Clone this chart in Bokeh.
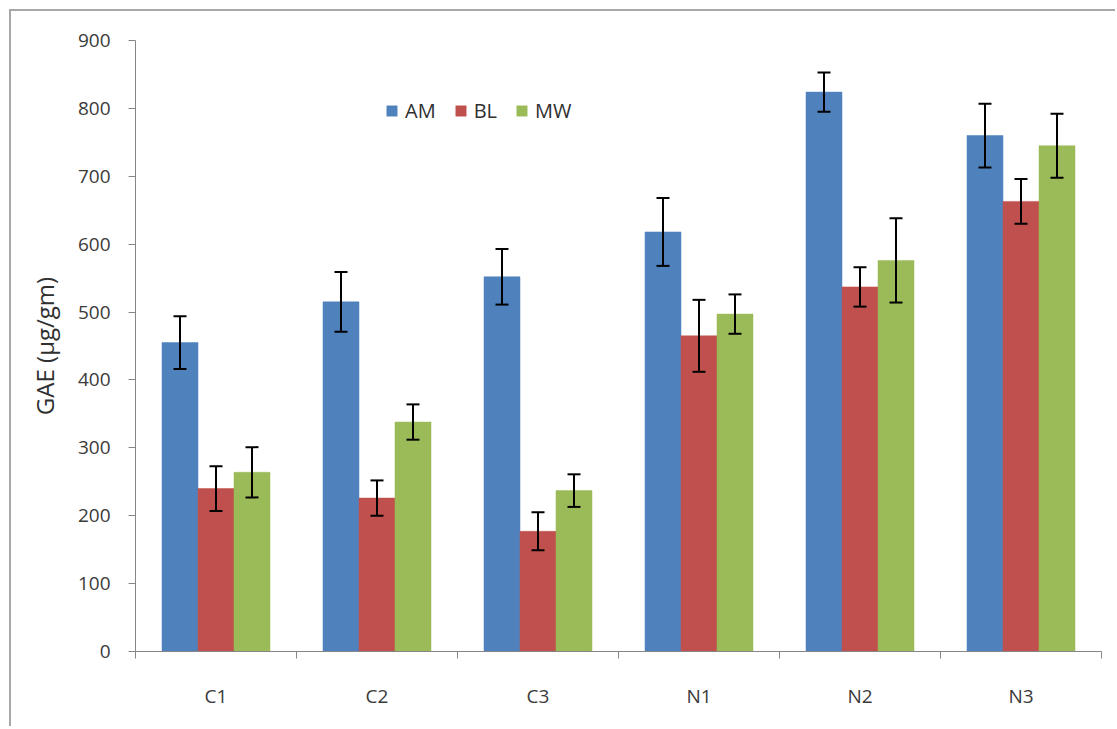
from bokeh.plotting import figure
from bokeh.models import Range1d, FixedTicker, ColumnDataSource, Whisker, TeeHead, Legend, LegendItem
from bokeh.embed import file_html
from bokeh.resources import INLINE

categories = ["C1", "C2", "C3", "N1", "N2", "N3"]
series = ["AM", "BL", "MW"]
am = [455, 515, 552, 618, 824, 760]
bl = [240, 226, 177, 465, 537, 663]
mw = [264, 338, 237, 497, 576, 745]
am_err = [39, 44, 41, 50, 29, 47]
bl_err = [33, 26, 28, 53, 29, 33]
mw_err = [37, 26, 24, 29, 62, 47]
colors = ["#4F81BD", "#C0504D", "#9BBB59"]
y_ticks = [0, 100, 200, 300, 400, 500, 600, 700, 800, 900]

FONT = "Open Sans"
TXT = "#3a3a3a"

p = figure(width=1106, height=717, output_backend="svg", toolbar_location=None,
           x_range=Range1d(0, len(categories)), y_range=Range1d(0, 900),
           min_border_left=124, min_border_right=16, min_border_top=29, min_border_bottom=77,
           styles={"border-left": "2px solid #a8a8a8", "border-top": "2px solid #a8a8a8"},
           margin=(9, 0, 0, 9))
p.outline_line_color = None
p.xgrid.visible = False
p.ygrid.visible = False
p.background_fill_color = "white"
p.border_fill_color = "white"

bw = 0.2236
values = [am, bl, mw]
errs = [am_err, bl_err, mw_err]
renderers = []
for k, (vals, er) in enumerate(zip(values, errs)):
    xs = [i + 0.5 + (k - 1) * bw for i in range(len(categories))]
    src = ColumnDataSource(dict(x=xs, top=vals,
                                upper=[v + e for v, e in zip(vals, er)],
                                lower=[v - e for v, e in zip(vals, er)]))
    r = p.vbar(x="x", top="top", width=bw, source=src, fill_color=colors[k],
               line_color=colors[k], line_width=0.5)
    renderers.append(r)
    w = Whisker(base="x", upper="upper", lower="lower", source=src,
                line_color="black", line_width=2, level="overlay",
                upper_head=TeeHead(size=13, line_width=2, line_color="black"),
                lower_head=TeeHead(size=13, line_width=2, line_color="black"))
    p.add_layout(w)

# axes
p.xaxis.ticker = FixedTicker(ticks=[i + 0.5 for i in range(len(categories))],
                             minor_ticks=list(range(len(categories) + 1)))
p.xaxis.major_label_overrides = {i + 0.5: c for i, c in enumerate(categories)}
p.xaxis.major_tick_line_color = None
p.xaxis.major_tick_out = 0
p.xaxis.major_tick_in = 0
p.xaxis.minor_tick_out = 7
p.xaxis.minor_tick_in = 0
p.xaxis.minor_tick_line_color = "#868686"
p.xaxis.major_label_standoff = 24
p.xaxis.axis_line_color = "#868686"

p.yaxis.ticker = FixedTicker(ticks=y_ticks)
p.yaxis.minor_tick_line_color = None
p.yaxis.major_tick_out = 7
p.yaxis.major_tick_in = 0
p.yaxis.major_tick_line_color = "#868686"
p.yaxis.axis_line_color = "#868686"
p.yaxis.major_label_standoff = 18
p.yaxis.axis_label = "GAE (µg/gm)"
p.yaxis.axis_label_standoff = 14
p.yaxis.axis_label_text_font = FONT
p.yaxis.axis_label_text_font_size = "24px"
p.yaxis.axis_label_text_font_style = "normal"
p.yaxis.axis_label_text_color = "#303030"

for ax in (p.xaxis, p.yaxis):
    ax.major_label_text_font = FONT
    ax.major_label_text_font_size = "19px"
    ax.major_label_text_color = TXT
    ax.major_label_text_font_style = "normal"

legend = Legend(items=[LegendItem(label=s, renderers=[r]) for s, r in zip(series, renderers)],
                orientation="horizontal", location=(250, 527),
                border_line_color=None, background_fill_alpha=0,
                glyph_width=13, glyph_height=13, label_standoff=7, spacing=18,
                padding=0, margin=0,
                label_text_font=FONT, label_text_font_size="20px", label_text_color="#303030")
p.add_layout(legend)

open("out.html", "w").write(file_html(p, INLINE))
